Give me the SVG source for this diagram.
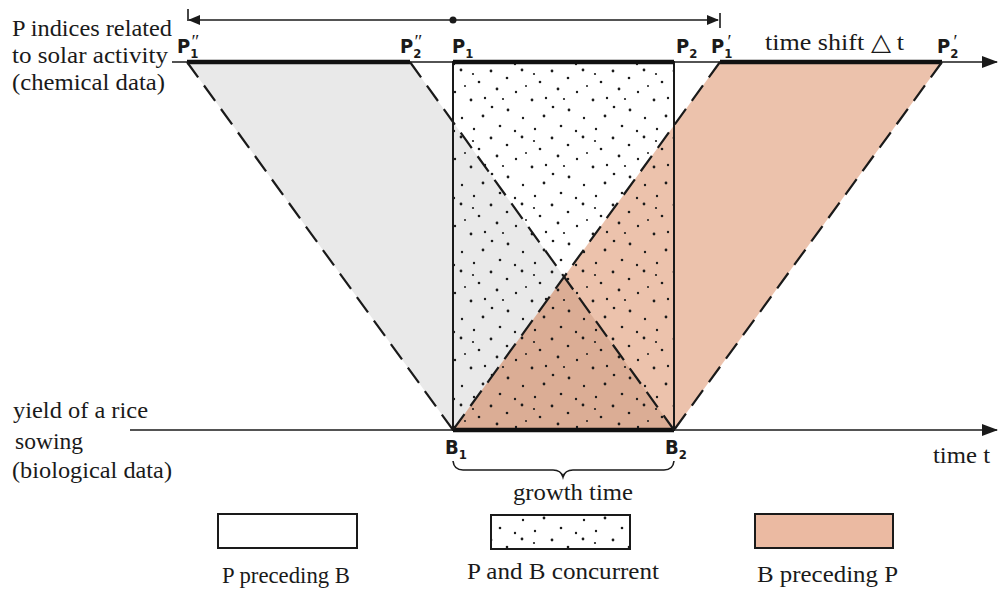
<svg xmlns="http://www.w3.org/2000/svg" width="1004" height="589" viewBox="0 0 1004 589">
<style>
.t{font-family:"Liberation Serif","Times New Roman",serif;font-size:24px;fill:#1a1a1a}
.p{font-family:"DejaVu Sans Condensed","Liberation Sans",sans-serif;font-weight:bold;font-size:20px;fill:#1a1a1a}
.sub{font-size:13px}
.pr{font-family:"Liberation Serif",serif;font-style:italic;font-weight:normal;font-size:19px}
.ax{stroke:#1a1a1a;stroke-width:1.6;fill:none}
.thick{stroke:#111;stroke-width:4.5;fill:none}
.dash{stroke:#1a1a1a;stroke-width:2.2;stroke-dasharray:19 10;fill:none}
.solid{stroke:#1a1a1a;stroke-width:2;fill:none}
</style>
<defs>
<pattern id="dots" width="61" height="67" patternUnits="userSpaceOnUse">
<g fill="#1a1a1a">
<circle cx="3" cy="4" r="1.4"/><circle cx="19" cy="11" r="1.3"/><circle cx="34" cy="3" r="1.4"/><circle cx="52" cy="15" r="1.3"/>
<circle cx="9" cy="22" r="1.4"/><circle cx="28" cy="25" r="1.2"/><circle cx="44" cy="33" r="1.4"/><circle cx="4" cy="40" r="1.3"/>
<circle cx="20" cy="43" r="1.4"/><circle cx="35" cy="51" r="1.2"/><circle cx="56" cy="49" r="1.4"/><circle cx="12" cy="59" r="1.3"/>
<circle cx="27" cy="64" r="1.2"/><circle cx="46" cy="7" r="1.1"/><circle cx="15" cy="32" r="1.1"/><circle cx="58" cy="31" r="1.2"/>
<circle cx="47" cy="62" r="1.2"/><circle cx="38" cy="19" r="1"/>
</g>
</pattern>
<marker id="ah" markerWidth="12" markerHeight="10" refX="11" refY="5" orient="auto" markerUnits="userSpaceOnUse">
<path d="M0,0 L12,5 L0,10 Z" fill="#1a1a1a"/>
</marker>
<marker id="ahs" markerWidth="16" markerHeight="12" refX="15" refY="6" orient="auto" markerUnits="userSpaceOnUse">
<path d="M0,0 L16,6 L0,12 Z" fill="#1a1a1a"/>
</marker>
</defs>
<rect width="1004" height="589" fill="#ffffff"/>

<!-- regions -->
<g id="region-p-preceding-b">
<polygon points="187,62 410,62 674,430 453,430" fill="#e9e9e9"/>
</g>
<g id="region-b-preceding-p">
<polygon points="720,62 942,62 674,430 453,430" fill="#e9b79e" fill-opacity="0.85"/>
</g>
<g id="region-overlap">
<polygon points="453,430 674,430 564,277" fill="#cf9f85" fill-opacity="0.55"/>
</g>
<g id="region-concurrent">
<rect x="453" y="62" width="221" height="368" fill="url(#dots)"/>
<rect x="453" y="62" width="221" height="368" class="solid"/>
</g>

<!-- connectors -->
<g id="connectors">
<line x1="172" y1="62" x2="997" y2="62" class="ax" marker-end="url(#ahs)"/>
<line x1="130" y1="430" x2="997" y2="430" class="ax" marker-end="url(#ahs)"/>
<line x1="187" y1="62" x2="410" y2="62" class="thick"/>
<line x1="453" y1="62" x2="674" y2="62" class="thick"/>
<line x1="720" y1="62" x2="942" y2="62" class="thick"/>
<line x1="453" y1="430" x2="674" y2="430" class="thick"/>
<line x1="187" y1="62" x2="453" y2="430" class="dash"/>
<line x1="410" y1="62" x2="674" y2="430" class="dash"/>
<line x1="720" y1="62" x2="453" y2="430" class="dash"/>
<line x1="942" y1="62" x2="674" y2="430" class="dash"/>
<line x1="453" y1="20" x2="189" y2="20" class="ax" marker-end="url(#ah)"/>
<line x1="453" y1="20" x2="718" y2="20" class="ax" marker-end="url(#ah)"/>
<line x1="188" y1="9" x2="188" y2="21" class="ax"/>
<line x1="720" y1="13" x2="720" y2="28" class="ax"/>
<circle cx="453" cy="20" r="3.5" fill="#1a1a1a"/>
<path d="M453,461 Q454,470 463,470 L553,470 Q561,470 563,477 Q565,470 573,470 L664,470 Q673,470 674,461" class="ax" stroke-width="2"/>
</g>

<!-- labels -->
<g id="axis-labels">
<text class="t" x="12" y="36" textLength="160" lengthAdjust="spacingAndGlyphs">P indices related</text>
<text class="t" x="12" y="63" textLength="156" lengthAdjust="spacingAndGlyphs">to solar activity</text>
<text class="t" x="12" y="90" textLength="153" lengthAdjust="spacingAndGlyphs">(chemical data)</text>
<text class="t" x="13" y="418" textLength="135" lengthAdjust="spacingAndGlyphs">yield of a rice</text>
<text class="t" x="15" y="449" textLength="68" lengthAdjust="spacingAndGlyphs">sowing</text>
<text class="t" x="12" y="478" textLength="160" lengthAdjust="spacingAndGlyphs">(biological data)</text>
<text class="t" x="933" y="463" textLength="57" lengthAdjust="spacingAndGlyphs">time t</text>
<text class="t" x="765" y="50" textLength="139" lengthAdjust="spacingAndGlyphs">time shift △ t</text>
<text class="t" x="513" y="500" textLength="120" lengthAdjust="spacingAndGlyphs">growth time</text>
</g>
<g id="point-labels">
<text class="p" x="177" y="53">P<tspan class="sub" dy="5">1</tspan><tspan class="pr" dx="-8" dy="-10">″</tspan></text>
<text class="p" x="400" y="53">P<tspan class="sub" dy="5">2</tspan><tspan class="pr" dx="-8" dy="-10">″</tspan></text>
<text class="p" x="452" y="53">P<tspan class="sub" dy="5">1</tspan></text>
<text class="p" x="676" y="53">P<tspan class="sub" dy="5">2</tspan></text>
<text class="p" x="711" y="53">P<tspan class="sub" dy="5">1</tspan><tspan class="pr" dx="-6" dy="-10">′</tspan></text>
<text class="p" x="937" y="53">P<tspan class="sub" dy="5">2</tspan><tspan class="pr" dx="-6" dy="-10">′</tspan></text>
<text class="p" x="445" y="454">B<tspan class="sub" dy="5">1</tspan></text>
<text class="p" x="665" y="454">B<tspan class="sub" dy="5">2</tspan></text>
</g>

<!-- legend -->
<g id="legend-p-preceding-b">
<rect x="218" y="514" width="139" height="34" fill="#ffffff" stroke="#1a1a1a" stroke-width="2"/>
<text class="t" x="222" y="583" textLength="128" lengthAdjust="spacingAndGlyphs">P preceding B</text>
</g>
<g id="legend-concurrent">
<rect x="491" y="515" width="139" height="34" fill="url(#dots)" stroke="#1a1a1a" stroke-width="2"/>
<text class="t" x="467" y="579" textLength="192" lengthAdjust="spacingAndGlyphs">P and B concurrent</text>
</g>
<g id="legend-b-preceding-p">
<rect x="755" y="514" width="138" height="34" fill="#ebbaa2" stroke="#1a1a1a" stroke-width="2"/>
<text class="t" x="757" y="582" textLength="141" lengthAdjust="spacingAndGlyphs">B preceding P</text>
</g>
</svg>
